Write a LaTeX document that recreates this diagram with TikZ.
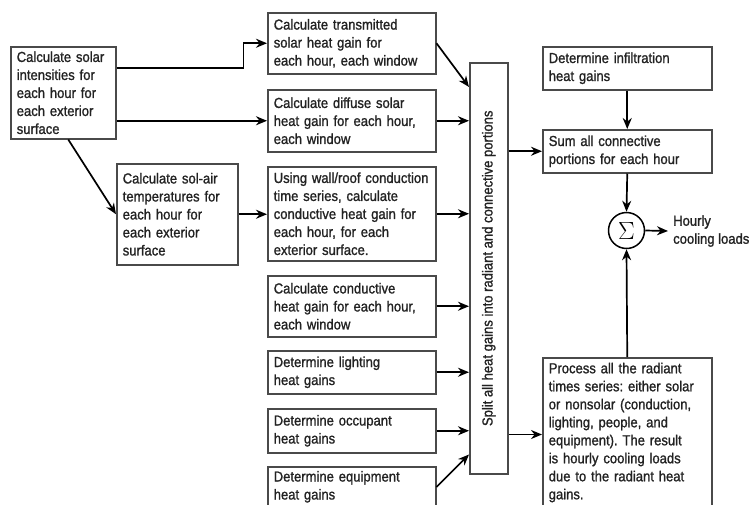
\documentclass[tikz,border=0pt]{standalone}
\usepackage{fontspec}
\setmainfont{Liberation Sans}[FakeStretch=0.9,UprightFeatures={FakeBold=1.2}]
\usetikzlibrary{arrows.meta,calc}
\definecolor{txt}{HTML}{222222}
\definecolor{brd}{HTML}{4A4A4A}
\frenchspacing
\begin{document}
\begin{tikzpicture}[x=1pt,y=-1pt,
  bx/.style={draw=brd, line width=1.5pt, anchor=north west, inner xsep=6pt, inner ysep=4pt,
    align=left, text=txt, font=\fontsize{14.5}{18}\selectfont},
  arr/.style={draw=black, line width=1.7pt, -{Stealth[length=11pt,width=9pt]}}]
\useasboundingbox (0,0) rectangle (755,504);
\clip (0,0) rectangle (755,504);
\node[bx, minimum width=105pt, minimum height=92pt, text width=93pt] (A) at (10,46)
  {Calculate solar\\intensities for\\each hour for\\each exterior\\surface};
\node[bx, minimum width=121pt, minimum height=101pt, text width=109pt] (B) at (116,163)
  {Calculate sol-air\\temperatures for\\each hour for\\each exterior\\surface};
\node[bx, minimum width=168pt, minimum height=61pt, text width=156pt] (trans) at (267,12)
  {Calculate transmitted\\solar heat gain for\\each hour, each window};
\node[bx, minimum width=168pt, minimum height=62pt, text width=156pt] (diff) at (267,89)
  {Calculate diffuse solar\\heat gain for each hour,\\each window};
\node[bx, minimum width=168pt, minimum height=94pt, text width=156pt] (wall) at (267,166)
  {Using wall/roof conduction\\time series, calculate\\conductive heat gain for\\each hour, for each\\exterior surface.};
\node[bx, minimum width=168pt, minimum height=61pt, text width=156pt] (win) at (267,275)
  {Calculate conductive\\heat gain for each hour,\\each window};
\node[bx, minimum width=168pt, minimum height=43pt, text width=156pt] (light) at (267,350)
  {Determine lighting\\heat gains};
\node[bx, minimum width=168pt, minimum height=44pt, text width=156pt] (occ) at (267,408)
  {Determine occupant\\heat gains};
\node[bx, minimum width=168pt, minimum height=40pt, text width=156pt, inner ysep=2pt] (equip) at (267,466)
  {Determine equipment\\heat gains};
\node[draw=brd, line width=1.5pt, anchor=north west, minimum width=38pt, minimum height=411pt] (split) at (469,62) {};
\node[rotate=90, text=txt, font=\fontsize{14.5}{18}\selectfont] (splittxt) at (split.center)
  {Split all heat gains into radiant and connective portions};
\node[bx, minimum width=169pt, minimum height=43pt, text width=157pt] (infil) at (542,46)
  {Determine infiltration\\heat gains};
\node[bx, minimum width=169pt, minimum height=43pt, text width=157pt] (sum) at (542,129)
  {Sum all connective\\portions for each hour};
\node[bx, minimum width=169pt, text width=157pt, inner ysep=5pt] (proc) at (542,357)
  {Process all the radiant\\times series: either solar\\or nonsolar (conduction,\\lighting, people, and\\equipment). The result\\is hourly cooling loads\\due to the radiant heat\\gains.\\ };
\node[draw=black, line width=1.5pt, circle, minimum size=36pt, inner sep=0pt, font=\fontsize{27}{27}\selectfont] (sig) at (626.5,230.5) {$\Sigma$};
\node[anchor=west, inner sep=0pt, align=left, text=txt, font=\fontsize{14.5}{18}\selectfont] (lab) at (673,231)
  {Hourly\\cooling loads};
% connectors
\draw[arr] ([yshift=25pt]A.east) -- ++(127,0) |- (trans.west);
\draw[arr] (A.east |- diff.west) -- (diff.west);
\draw[arr] ([xshift=5pt]A.south) -- (B.west);
\draw[arr] (B.east) -- (B.east -| wall.west);
\draw[arr] (trans.east) -- ([yshift=-25pt]split.north west);
\draw[arr] (diff.east) -- (diff.east -| split.west);
\draw[arr] (wall.east) -- (wall.east -| split.west);
\draw[arr] (win.east) -- (win.east -| split.west);
\draw[arr] (light.east) -- (light.east -| split.west);
\draw[arr] (occ.east) -- (occ.east -| split.west);
\draw[arr] ([yshift=-21pt]equip.north east) -- ([yshift=20pt]split.south west);
\draw[arr] (split.east |- sum.west) -- (sum.west);
\draw[arr] ([yshift=40pt]split.south east) -- ([yshift=40pt]split.south east -| proc.west);
\draw[arr] (infil.south) -- (sum.north);
\draw[arr] (sum.south) -- (sig.north);
\draw[arr] (proc.north) -- (sig.south);
\draw[arr] (sig.east) -- ([xshift=-5pt]lab.west);
\end{tikzpicture}
\end{document}
